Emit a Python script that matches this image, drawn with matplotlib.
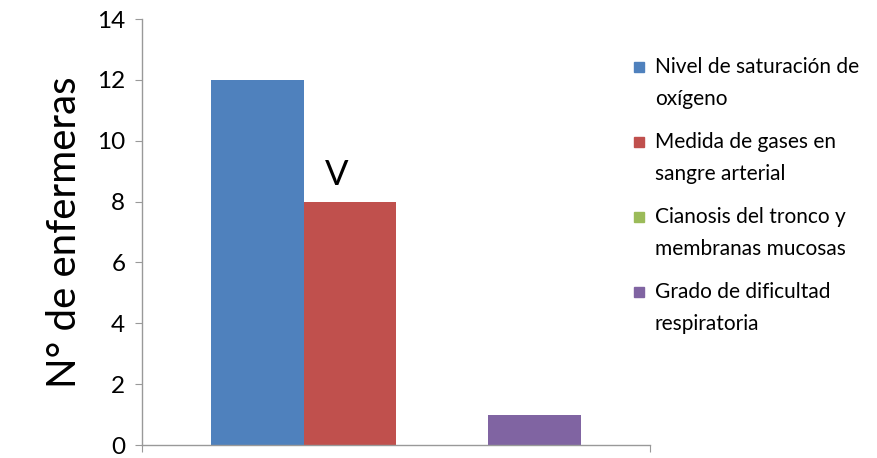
import numpy as np
import matplotlib
matplotlib.use("Agg")
import matplotlib.pyplot as plt
from matplotlib.patches import Rectangle

plt.rcParams["font.family"] = ["Lato", "DejaVu Sans"]

# counts per indicator (single group)
series_labels = [
    "Nivel de saturación de\noxígeno",
    "Medida de gases en\nsangre arterial",
    "Cianosis del tronco y\nmembranas mucosas",
    "Grado de dificultad\nrespiratoria",
]
series_values = [12, 8, 0, 1]
series_colors = ["#4F81BD", "#C0504D", "#9BBB59", "#8064A2"]
y_ticks = [0, 2, 4, 6, 8, 10, 12, 14]
bar_note = "V"

W, H = 878, 458
fig = plt.figure(figsize=(W / 100, H / 100), dpi=100)
ax = fig.add_axes([142 / W, 13 / H, (650 - 142) / W, (445 - 19) / H])

gap = 1.5
w = 1.0 / (len(series_values) + gap)
offsets = (np.arange(len(series_values)) - (len(series_values) - 1) / 2) * w
ax.bar(offsets, series_values, width=w, color=series_colors, linewidth=0)

# marker letter above the second bar
ax.text(offsets[1] - 0.025, series_values[1] + 0.88, bar_note,
        ha="center", va="center", fontsize=25)

ax.set_xlim(-0.5, 0.5)
ax.set_ylim(0, 14)
ax.set_yticks(y_ticks)
ax.set_xticks([-0.5, 0.5])
ax.set_xticklabels([])

grey = "#999999"
for s in ["top", "right"]:
    ax.spines[s].set_visible(False)
for s in ["left", "bottom"]:
    ax.spines[s].set_color(grey)
    ax.spines[s].set_linewidth(1.0)
ax.tick_params(axis="y", length=5, color=grey, labelsize=17.5, pad=7, direction="out")
ax.tick_params(axis="x", length=5, color=grey, direction="out")

ax.set_ylabel("N° de enfermeras", fontsize=29, labelpad=10)

# legend drawn by hand so the swatch sits on the first text line
top = 67
step = 75
for i, (lab, col) in enumerate(zip(series_labels, series_colors)):
    yc = top + i * step
    fig.patches.append(Rectangle((634 / W, 1 - (yc + 5) / H), 10 / W, 10 / H,
                                 transform=fig.transFigure, color=col))
    fig.text(655 / W, 1 - (yc - 10) / H, lab, fontsize=15, va="top", ha="left",
             linespacing=1.75)

fig.savefig("out.png", dpi=100)
